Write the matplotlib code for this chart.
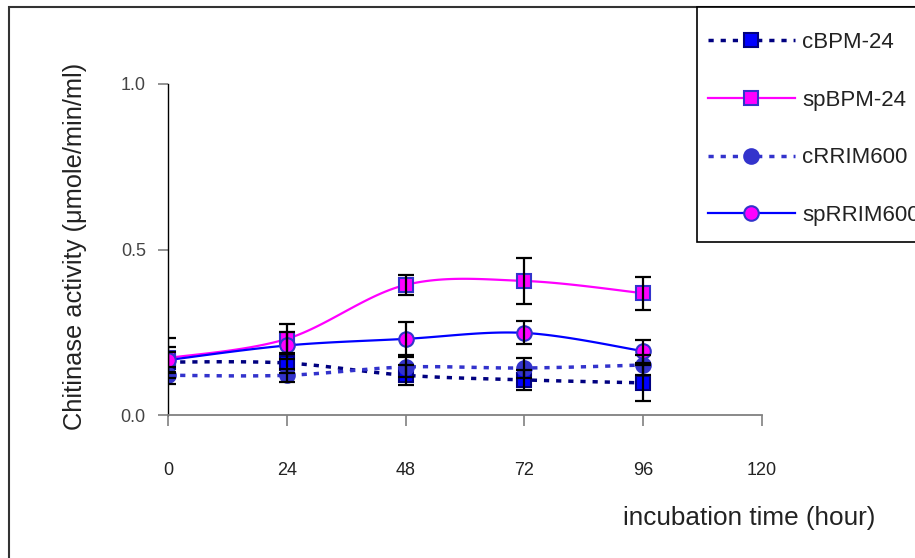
import matplotlib
matplotlib.use("Agg")
import matplotlib.pyplot as plt
from matplotlib.patches import Rectangle
import numpy as np

plt.rcParams['font.family'] = ['Liberation Sans', 'DejaVu Sans']

hours = [0, 24, 48, 72, 96]

cbpm = [0.16, 0.157, 0.12, 0.106, 0.097]
cbpm_err = [0.03, 0.03, 0.03, 0.03, 0.055]
spbpm = [0.172, 0.23, 0.393, 0.405, 0.368]
spbpm_err = [0.06, 0.045, 0.03, 0.07, 0.05]
crrim = [0.12, 0.12, 0.145, 0.142, 0.151]
crrim_err = [0.025, 0.02, 0.03, 0.03, 0.03]
sprrim = [0.166, 0.21, 0.23, 0.248, 0.193]
sprrim_err = [0.04, 0.04, 0.05, 0.035, 0.035]


def smooth(x, y, n=30):
    # excel-like smoothed line (bezier through the points)
    x = np.asarray(x, float)
    y = np.asarray(y, float)
    px, py = [], []
    for i in range(len(x) - 1):
        x0, y0 = x[max(i - 1, 0)], y[max(i - 1, 0)]
        x1, y1 = x[i], y[i]
        x2, y2 = x[i + 1], y[i + 1]
        x3, y3 = x[min(i + 2, len(x) - 1)], y[min(i + 2, len(x) - 1)]
        c1x, c1y = x1 + (x2 - x0) / 6, y1 + (y2 - y0) / 6
        c2x, c2y = x2 - (x3 - x1) / 6, y2 - (y3 - y1) / 6
        t = np.linspace(0, 1, n)
        px.append((1 - t)**3 * x1 + 3 * (1 - t)**2 * t * c1x + 3 * (1 - t) * t**2 * c2x + t**3 * x2)
        py.append((1 - t)**3 * y1 + 3 * (1 - t)**2 * t * c1y + 3 * (1 - t) * t**2 * c2y + t**3 * y2)
    return np.concatenate(px), np.concatenate(py)


fig = plt.figure(figsize=(9.15, 5.58), dpi=100)
ax = fig.add_axes([168 / 915, 1 - 415 / 558, 594 / 915, 331 / 558])

series = [
    ("cBPM-24", cbpm, cbpm_err, "#000080", (0, (1.5, 2)), 's', "#0000FF", "#000080"),
    ("spBPM-24", spbpm, spbpm_err, "#FF00FF", '-', 's', "#FF00FF", "#3333CC"),
    ("cRRIM600", crrim, crrim_err, "#3333CC", (0, (1.5, 2)), 'o', "#3333CC", "#3333CC"),
    ("spRRIM600", sprrim, sprrim_err, "#0000FF", '-', 'o', "#FF00FF", "#3333CC"),
]

handles = []
for label, vals, err, lc, ls, mk, mfc, mec in series:
    sx, sy = smooth(hours, vals)
    lw = 2.5 if ls != '-' else 1.6
    ax.plot(sx, sy, color=lc, linestyle=ls, lw=lw, zorder=2)
    ax.errorbar(hours, vals, yerr=err, fmt='none', ecolor='black',
                elinewidth=1.6, capsize=6, capthick=1.6, zorder=4)
    ax.plot(hours, vals, linestyle='none', marker=mk, markersize=10.5,
            markerfacecolor=mfc, markeredgecolor=mec, markeredgewidth=1.5, zorder=3)
    h, = plt.plot([], [], color=lc, linestyle=ls, lw=lw, marker=mk, markersize=10.5,
                  markerfacecolor=mfc, markeredgecolor=mec, markeredgewidth=1.5)
    handles.append(h)

ax.set_xlim(0, 120)
ax.set_ylim(0, 1.0)
ax.set_xticks([0, 24, 48, 72, 96, 120])
ax.set_yticks([0.0, 0.5, 1.0])
ax.set_yticklabels(["0.0", "0.5", "1.0"])
ax.spines['top'].set_visible(False)
ax.spines['right'].set_visible(False)
ax.spines['bottom'].set_color('#808080')
ax.spines['bottom'].set_linewidth(1.3)
ax.spines['left'].set_color('black')
ax.spines['left'].set_linewidth(1.0)
ax.tick_params(axis='x', direction='out', length=8, color='#808080', width=1.2,
               pad=26, labelsize=13, labelcolor='#222222')
ax.tick_params(axis='y', direction='out', length=7, color='#808080', width=1.2,
               pad=9, labelsize=13, labelcolor='#444444')

fig.text(75 / 915, 1 - 246 / 558, "Chitinase activity (μmole/min/ml)",
         rotation=90, ha='center', va='center', fontsize=18.3, color='#222222')
fig.text(749 / 915, 1 - 518 / 558, "incubation time (hour)",
         ha='center', va='center', fontsize=18.8, color='#222222')

# outer frame of the chart area
fig.patches.append(Rectangle((9 / 915, -0.1), 1.2, 1.1 - 7 / 558,
                             transform=fig.transFigure, fill=False,
                             edgecolor='#333333', lw=1.5))
# legend box
fig.patches.append(Rectangle((697 / 915, 1 - 242 / 558), 0.5, 235 / 558,
                             transform=fig.transFigure, facecolor='white',
                             edgecolor='black', lw=1.2, zorder=5))

leg = fig.legend(handles, [s[0] for s in series], loc='upper left',
                 bbox_to_anchor=(708 / 915, 1 - 32 / 558),
                 fontsize=16, handlelength=3.9, handletextpad=0.35,
                 labelspacing=1.65, borderpad=0, borderaxespad=0,
                 frameon=False)
leg.set_zorder(6)
for t in leg.get_texts():
    t.set_color('#222222')

fig.savefig("out.png", dpi=100)
